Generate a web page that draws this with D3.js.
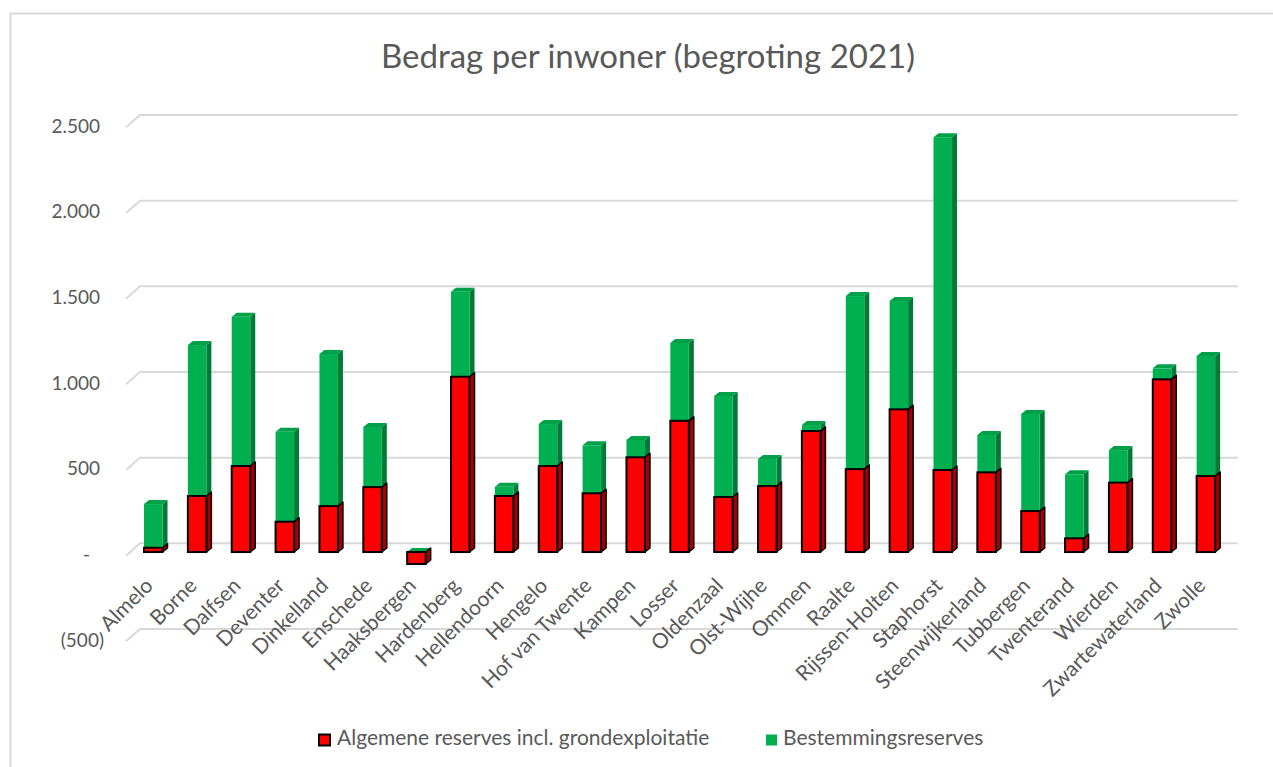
<!DOCTYPE html>
<html>
<head>
<meta charset="utf-8">
<script src="https://cdnjs.cloudflare.com/ajax/libs/d3/7.8.5/d3.min.js"></script>
<style>
    body { margin: 0; background: #fff; }
    text { font-family: Lato, "Open Sans", sans-serif; fill: #595959; }
</style>
</head>
<body>
<div id="my_dataviz"><svg></svg></div>
<script>
// gemeenten (categorieen)
var gemeenten = ["Almelo", "Borne", "Dalfsen", "Deventer", "Dinkelland", "Enschede", "Haaksbergen",
    "Hardenberg", "Hellendoorn", "Hengelo", "Hof van Twente", "Kampen", "Losser", "Oldenzaal",
    "Olst-Wijhe", "Ommen", "Raalte", "Rijssen-Holten", "Staphorst", "Steenwijkerland", "Tubbergen",
    "Twenterand", "Wierden", "Zwartewaterland", "Zwolle"];

// Algemene reserves incl. grondexploitatie (per inwoner)
var algemeneReserves = [25, 327, 502, 177, 268, 379, -70, 1023, 327, 502, 343, 553, 766, 321,
    385, 706, 484, 833, 479, 465, 239, 80, 405, 1008, 444];

// Bestemmingsreserves (per inwoner)
var bestemmingsReserves = [255, 881, 871, 525, 888, 351, 0, 496, 54, 245, 280, 101, 454, 590,
    158, 35, 1010, 632, 1942, 218, 567, 374, 190, 64, 700];

var yTicks = [-500, 0, 500, 1000, 1500, 2000, 2500];
var seriesNames = ["Algemene reserves incl. grondexploitatie", "Bestemmingsreserves"];
var chartTitle = "Bedrag per inwoner (begroting 2021)";

var width = 1273, height = 767;

var svg = d3.select("#my_dataviz")
    .select("svg")
    .attr("width", width)
    .attr("height", height);

// rand van het grafiekgebied
svg.append("rect")
    .attr("x", 10.5)
    .attr("y", 13.5)
    .attr("width", 1300)
    .attr("height", 800)
    .attr("fill", "#fff")
    .attr("stroke", "#d9d9d9")
    .attr("stroke-width", 2);

svg.append("text")
    .attr("x", 648)
    .attr("y", 60)
    .attr("text-anchor", "middle")
    .attr("dominant-baseline", "middle")
    .style("font-size", "33px")
    .text(chartTitle);

var xBand = d3.scaleBand()
    .domain(gemeenten)
    .range([140, 1236.5]);

// achterwand schaal
var yAxis = d3.scaleLinear()
    .domain([-500, 2500])
    .range([629, 115]);

var wallDx = 14, wallDy = 12.3;     // zijwand diagonaal
var barShift = 8.7;                  // staven staan voor de achterwand
var barOffset = 4, barWidth = 18.5;  // voorvlak
var barDx = 5, barDy = 4;            // diepte van de staaf

function yBar(v) {
    return yAxis(v) + barShift;
}

var nl = d3.formatLocale({decimal: ",", thousands: ".", grouping: [3], currency: ["€", ""]});
function formatTick(v) {
    if (v == 0) return "-";
    var s = nl.format(",")(Math.abs(v));
    return v < 0 ? "(" + s + ")" : s;
}

// rasterlijnen
var grid = svg.append("g");
grid.selectAll("path")
    .data(yTicks)
    .enter()
    .append("path")
    .attr("d", function (d) {
        var y = yAxis(d);
        return "M" + (140 - wallDx) + "," + (y + wallDy) + "L140," + y + "L1238," + y;
    })
    .attr("fill", "none")
    .attr("stroke", "#d9d9d9")
    .attr("stroke-width", 2);

grid.selectAll("text")
    .data(yTicks)
    .enter()
    .append("text")
    .attr("x", function (d) {
        if (d == 0) return 90;
        return d < 0 ? 104 : 100;
    })
    .attr("y", function (d) { return yAxis(d) + 13; })
    .attr("text-anchor", "end")
    .attr("dominant-baseline", "middle")
    .style("font-size", "19px")
    .text(formatTick);

// 3D staaf segment
function drawSegment(g, x, v0, v1, col, outlined, withTop) {
    var top = yBar(Math.max(v0, v1));
    var bottom = yBar(Math.min(v0, v1));
    var stroke = outlined ? "#000" : "none";
    var right = x + barWidth;

    g.append("path")
        .attr("d", "M" + right + "," + bottom + "L" + (right + barDx) + "," + (bottom - barDy) +
            "L" + (right + barDx) + "," + (top - barDy) + "L" + right + "," + top + "Z")
        .attr("fill", col.side)
        .attr("stroke", stroke)
        .attr("stroke-width", 1.5)
        .attr("stroke-linejoin", "round");

    if (withTop) {
        g.append("path")
            .attr("d", "M" + x + "," + top + "L" + (x + barDx) + "," + (top - barDy) +
                "L" + (right + barDx) + "," + (top - barDy) + "L" + right + "," + top + "Z")
            .attr("fill", col.top)
            .attr("stroke", outlined ? "#000" : "none")
            .attr("stroke-width", 1.5)
            .attr("stroke-linejoin", "round");
    }

    if (bottom - top > 0) {
        g.append("rect")
            .attr("x", x)
            .attr("y", top)
            .attr("width", barWidth)
            .attr("height", bottom - top)
            .attr("fill", col.front)
            .attr("stroke", stroke)
            .attr("stroke-width", 2);
    }
}

var redCol = {front: "#ff0000", side: "#a80000", top: "#d00000"};
var greenCol = {front: "#00b050", side: "#007a37", top: "#00a049"};

var bars = svg.append("g");
gemeenten.forEach(function (name, i) {
    var g = bars.append("g");
    var x = xBand(name) + barOffset;
    var red = algemeneReserves[i];
    var green = bestemmingsReserves[i];
    var base = red > 0 ? red : 0;
    // groen eerst, daarna rood zodat de zwarte rand zichtbaar blijft
    drawSegment(g, x, base, base + green, greenCol, false, true);
    drawSegment(g, x, 0, red, redCol, true, false);
});

// categorie labels
svg.append("g")
    .selectAll("text")
    .data(gemeenten)
    .enter()
    .append("text")
    .attr("transform", function (d) {
        return "translate(" + (xBand(d) + barOffset + barWidth / 2 + 1) + ",587) rotate(-45)";
    })
    .attr("text-anchor", "end")
    .style("font-size", "21px")
    .text(function (d) { return d; });

// legenda
var legend = svg.append("g");
legend.append("rect")
    .attr("x", 319)
    .attr("y", 734.5)
    .attr("width", 11)
    .attr("height", 11)
    .attr("fill", "#ff0000")
    .attr("stroke", "#000")
    .attr("stroke-width", 2);
legend.append("text")
    .attr("x", 337)
    .attr("y", 740)
    .attr("dominant-baseline", "middle")
    .style("font-size", "21px")
    .text(seriesNames[0]);
legend.append("rect")
    .attr("x", 766)
    .attr("y", 734.5)
    .attr("width", 11)
    .attr("height", 11)
    .attr("fill", "#00b050");
legend.append("text")
    .attr("x", 783)
    .attr("y", 740)
    .attr("dominant-baseline", "middle")
    .style("font-size", "21px")
    .text(seriesNames[1]);
</script>
</body>
</html>
